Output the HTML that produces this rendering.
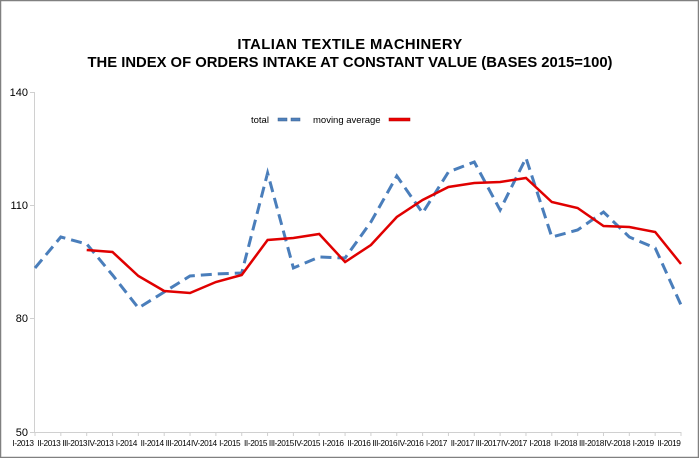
<!DOCTYPE html>
<html><head><style>
html,body{margin:0;padding:0;background:#fff}
svg{display:block;font-family:"Liberation Sans",Arial,sans-serif}
</style></head><body>
<svg width="699" height="458" viewBox="0 0 699 458">
<rect x="0.5" y="0.5" width="698" height="457" fill="#fff" stroke="#808080" stroke-width="1.5"/>
<text x="350" y="49" text-anchor="middle" font-size="14.8" font-weight="bold" letter-spacing="0.4">ITALIAN TEXTILE MACHINERY</text>
<text x="350" y="67" text-anchor="middle" font-size="14.8" font-weight="bold">THE INDEX OF ORDERS INTAKE AT CONSTANT VALUE (BASES 2015=100)</text>
<g stroke="#d0d0d0" stroke-width="1">
<line x1="34.5" y1="92" x2="34.5" y2="432"/>
<line x1="34" y1="432.5" x2="681" y2="432.5"/>
<line x1="30" y1="92.5" x2="34" y2="92.5"/>
<line x1="30" y1="205.5" x2="34" y2="205.5"/>
<line x1="30" y1="318.5" x2="34" y2="318.5"/>
<line x1="30" y1="432.5" x2="34" y2="432.5"/>
</g>
<g font-size="11" fill="#000" text-anchor="end">
<text x="28" y="96">140</text><text x="28" y="209">110</text><text x="28" y="322">80</text><text x="28" y="436">50</text>
</g>
<g id="xt" font-size="8.3" fill="#000" text-anchor="middle" letter-spacing="-0.4"></g>
<g font-size="9.5" fill="#000"><text x="251" y="123">total</text><text x="313" y="123">moving average</text></g>
<rect x="278" y="118" width="9" height="3" fill="#4f81bd" stroke="#385d8a" stroke-width="0.5"/>
<rect x="291" y="118" width="9" height="3" fill="#4f81bd" stroke="#385d8a" stroke-width="0.5"/>
<rect x="389" y="118" width="21" height="3" fill="#e00" stroke="#a00" stroke-width="0.5"/>
<polyline fill="none" stroke="#4a7ebb" stroke-width="3" stroke-dasharray="11,6" points="35,268 60.8,237 86.7,244 112.5,275 138.4,308 164.2,292 190,276 215.9,274 241.7,273 267.6,173 293.4,268 319.2,257 345.1,258 370.9,222 396.8,176 422.6,213 448.4,172 474.3,162 500.1,210 526,158 551.8,237 577.6,230 603.5,212 629.3,237 655.2,248 681,305"/>
<polyline fill="none" stroke="#e00000" stroke-width="2.5" points="86.7,250 112.5,252 138.4,276 164.2,291 190,293 215.9,282 241.7,275 267.6,240 293.4,238 319.2,234 345.1,262 370.9,245 396.8,217 422.6,200 448.4,187 474.3,183 500.1,182 526,178 551.8,202 577.6,208 603.5,226 629.3,227 655.2,232 681,264"/>
</svg>
<script>
var L=["I-2013","II-2013","III-2013","IV-2013","I-2014","II-2014","III-2014","IV-2014","I-2015","II-2015","III-2015","IV-2015","I-2016","II-2016","III-2016","IV-2016","I-2017","II-2017","III-2017","IV-2017","I-2018","II-2018","III-2018","IV-2018","I-2019","II-2019"];
var g=document.getElementById('xt'),s='';
L.forEach(function(t,i){var x=35+25.84*i;s+='<line x1="'+x+'" y1="432" x2="'+x+'" y2="436" stroke="#d0d0d0"/><text x="'+(x-12)+'" y="446">'+t+'</text>';});
g.innerHTML=s;
</script>
</body></html>
